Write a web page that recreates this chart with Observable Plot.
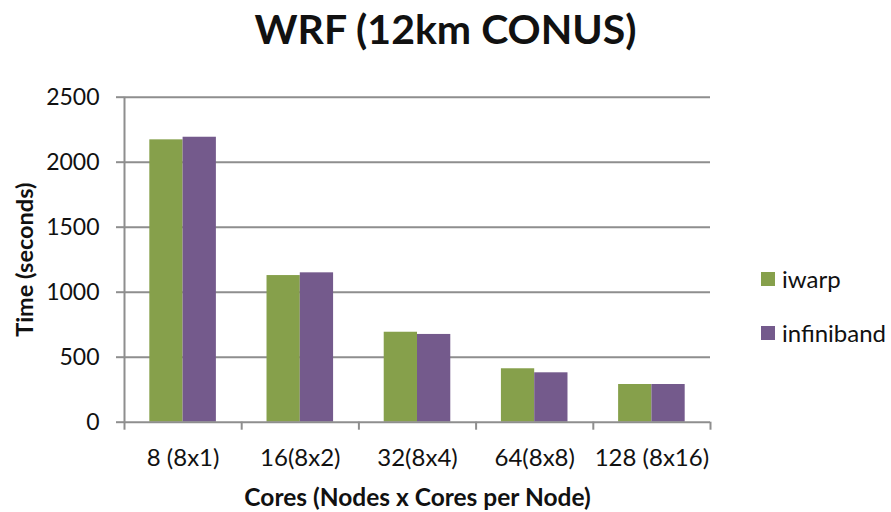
<!DOCTYPE html>
<html>
<head>
<meta charset="utf-8">
<script src="https://cdn.jsdelivr.net/npm/d3@7"></script>
<script src="https://cdn.jsdelivr.net/npm/@observablehq/plot@0.6"></script>
<style>
  html, body { margin: 0; padding: 0; background: #fff; }
  #wrap { position: relative; width: 891px; height: 512px; font-family: Lato, "Open Sans", sans-serif; color: #111; }
  #title { height: 60px; box-sizing: border-box; padding-top: 4px; text-align: center; font-weight: 700; font-size: 41px; line-height: normal; }
  .leg { position: absolute; left: 761px; font-size: 24px; display: flex; align-items: center; white-space: nowrap; }
  .sw { width: 14px; height: 14px; margin-right: 7px; display: inline-block; }
</style>
</head>
<body>
<div id="wrap">
  <div id="title">WRF (12km CONUS)</div>
  <div id="chart"></div>
  <div id="legend"></div>
</div>
<script>
const categories = ["8 (8x1)", "16(8x2)", "32(8x4)", "64(8x8)", "128 (8x16)"];
const series = ["iwarp", "infiniband"];
const iwarp = [2172, 1128, 692, 411, 290];
const infiniband = [2192, 1149, 675, 380, 290];
const yTicks = [0, 500, 1000, 1500, 2000, 2500];
const colors = ["#86a04b", "#745a8c"];

const values = [iwarp, infiniband];
const rows = [];
categories.forEach((c, i) => series.forEach((s, k) => rows.push({cat: c, i, series: s, k, value: values[k][i]})));

const pad = 0.216, bw = 0.284;
const gray = "#8e8e8e";

const plot = Plot.plot({
  width: 891,
  height: 452,
  marginLeft: 124,
  marginRight: 181,
  marginTop: 36.7,
  marginBottom: 90.3,
  style: {fontFamily: "Lato, 'Open Sans', sans-serif", background: "#fff", color: "#111"},
  x: {domain: [0, categories.length], axis: null},
  y: {domain: [0, 2500], axis: null},
  color: {domain: series, range: colors},
  marks: [
    Plot.ruleY(yTicks.filter(t => t > 0), {stroke: gray, strokeWidth: 2}),
    Plot.axisY({ticks: yTicks, tickSize: 8, tickPadding: 17, fontSize: 23, stroke: gray, strokeWidth: 2, fill: "#111", tickFormat: d => String(d), label: null}),
    Plot.rectY(rows, {
      x1: d => d.i + pad + d.k * bw,
      x2: d => d.i + pad + (d.k + 1) * bw,
      y: "value",
      fill: "series",
      style: {filter: "drop-shadow(0.5px 0.5px 1px rgba(0,0,0,0.25))"}
    }),
    Plot.ruleX([0], {stroke: gray, strokeWidth: 2}),
    Plot.ruleY([0], {stroke: gray, strokeWidth: 2}),
    Plot.axisX({ticks: d3.range(categories.length + 1), tickSize: 8, tickFormat: () => "", stroke: gray, strokeWidth: 2, label: null}),
    Plot.axisX({ticks: categories.map((c, i) => i + 0.5), tickSize: 0, tickPadding: 27, fontSize: 24, fill: "#111", tickFormat: v => categories[Math.floor(v)], label: null}),
    Plot.text(["Cores (Nodes x Cores per Node)"], {frameAnchor: "bottom", textAnchor: "middle", dy: 84, fontSize: 24.5, fontWeight: "bold", fill: "#111"}),
    Plot.text(["Time (seconds)"], {frameAnchor: "left", textAnchor: "middle", lineAnchor: "middle", dx: -99, rotate: -90, fontSize: 23.5, fontWeight: "bold", fill: "#111"})
  ]
});
document.getElementById("chart").appendChild(plot);

const legend = document.getElementById("legend");
const legTops = [264, 318];
series.forEach((s, k) => {
  const el = document.createElement("div");
  el.className = "leg";
  el.style.top = legTops[k] + "px";
  el.innerHTML = `<span class="sw" style="background:${colors[k]}"></span><span>${s}</span>`;
  legend.appendChild(el);
});
</script>
</body>
</html>
